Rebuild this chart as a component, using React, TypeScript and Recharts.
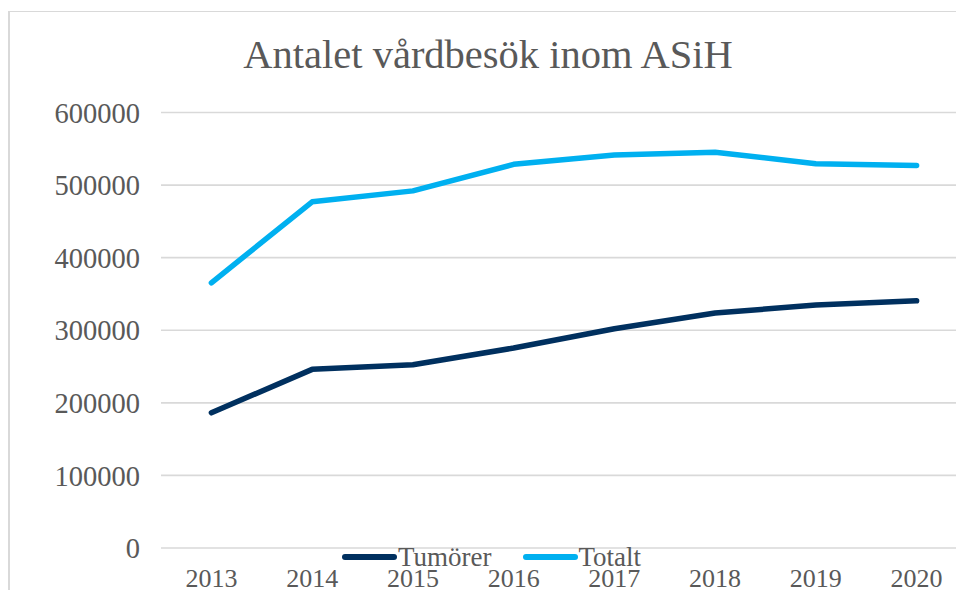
import React from "react";
import { LineChart, Line, XAxis, YAxis, CartesianGrid, Legend } from "recharts";

const years = ["2013", "2014", "2015", "2016", "2017", "2018", "2019", "2020"];
const tumorer = [186300, 246100, 252400, 275500, 302000, 323700, 334700, 340600];
const totalt = [365400, 477000, 492000, 528600, 541400, 545300, 529400, 526900];
const yTicks = [0, 100000, 200000, 300000, 400000, 500000, 600000];
const seriesNames = { tumorer: "Tumörer", totalt: "Totalt" };
const legendOrder = [seriesNames.tumorer, seriesNames.totalt];
const titleText = "Antalet vårdbesök inom ASiH";

const data = years.map((y, i) => ({ year: y, tumorer: tumorer[i], totalt: totalt[i] }));

const FONT = "'Liberation Serif', 'Times New Roman', serif";
const TEXT = "#595959";

const LegendContent = (props: any) => {
  const payload = [...(props.payload || [])].sort(
    (a: any, b: any) => legendOrder.indexOf(a.value) - legendOrder.indexOf(b.value)
  );
  return (
    <div style={{ display: "flex", alignItems: "center", fontFamily: FONT, fontSize: 27, color: TEXT, lineHeight: "26px", whiteSpace: "nowrap" }}>
      {payload.map((p: any, i: number) => (
        <div key={i} style={{ display: "flex", alignItems: "center", marginRight: 30 }}>
          <svg width={57} height={10} style={{ display: "block" }}>
            <line x1={4} y1={5} x2={53} y2={5} stroke={p.color} strokeWidth={6} strokeLinecap="round" />
          </svg>
          <span>{p.value}</span>
        </div>
      ))}
    </div>
  );
};

export default function App() {
  return (
    <div style={{ position: "fixed", left: 0, top: 0, width: 956, height: 590, overflow: "hidden", background: "#fff" }}>
      <div style={{ position: "absolute", left: 8, top: 11, width: 1000, height: 700, borderLeft: "2px solid #d9d9d9", borderTop: "1px solid #d9d9d9", boxSizing: "border-box" }} />
      <div style={{ position: "absolute", left: 9, top: 35, width: 958, textAlign: "center", fontFamily: FONT, fontSize: 40.5, lineHeight: "40px", color: TEXT }}>
        {titleText}
      </div>
      <div style={{ position: "absolute", left: 8, top: 11 }}>
        <LineChart width={964} height={600} data={data} margin={{ top: 101.5, right: 5, bottom: 23, left: 0 }}>
          <CartesianGrid vertical={false} stroke="#d9d9d9" strokeWidth={1.6} />
          <XAxis
            dataKey="year"
            axisLine={false}
            tickLine={false}
            tickSize={0}
            tickMargin={21}
            height={40}
            interval={0}
            padding={{ left: 50.4, right: 50.4 }}
            tick={{ fontFamily: FONT, fontSize: 26, fill: TEXT }}
          />
          <YAxis
            domain={[0, 600000]}
            ticks={yTicks}
            width={153}
            axisLine={false}
            tickLine={false}
            tickSize={0}
            tickMargin={21}
            interval={0}
            tick={{ fontFamily: FONT, fontSize: 28.5, fill: TEXT }}
          />
          <Legend
            verticalAlign="middle"
            align="center"
            layout="horizontal"
            content={<LegendContent />}
            wrapperStyle={{ left: 333, top: 533, width: "auto", height: 26 }}
          />
          <Line
            type="linear"
            dataKey="tumorer"
            name={seriesNames.tumorer}
            stroke="#00305F"
            strokeWidth={5.5}
            strokeLinecap="round"
            strokeLinejoin="round"
            dot={false}
            activeDot={false}
            isAnimationActive={false}
          />
          <Line
            type="linear"
            dataKey="totalt"
            name={seriesNames.totalt}
            stroke="#00B0F0"
            strokeWidth={5.5}
            strokeLinecap="round"
            strokeLinejoin="round"
            dot={false}
            activeDot={false}
            isAnimationActive={false}
          />
        </LineChart>
      </div>
    </div>
  );
}
